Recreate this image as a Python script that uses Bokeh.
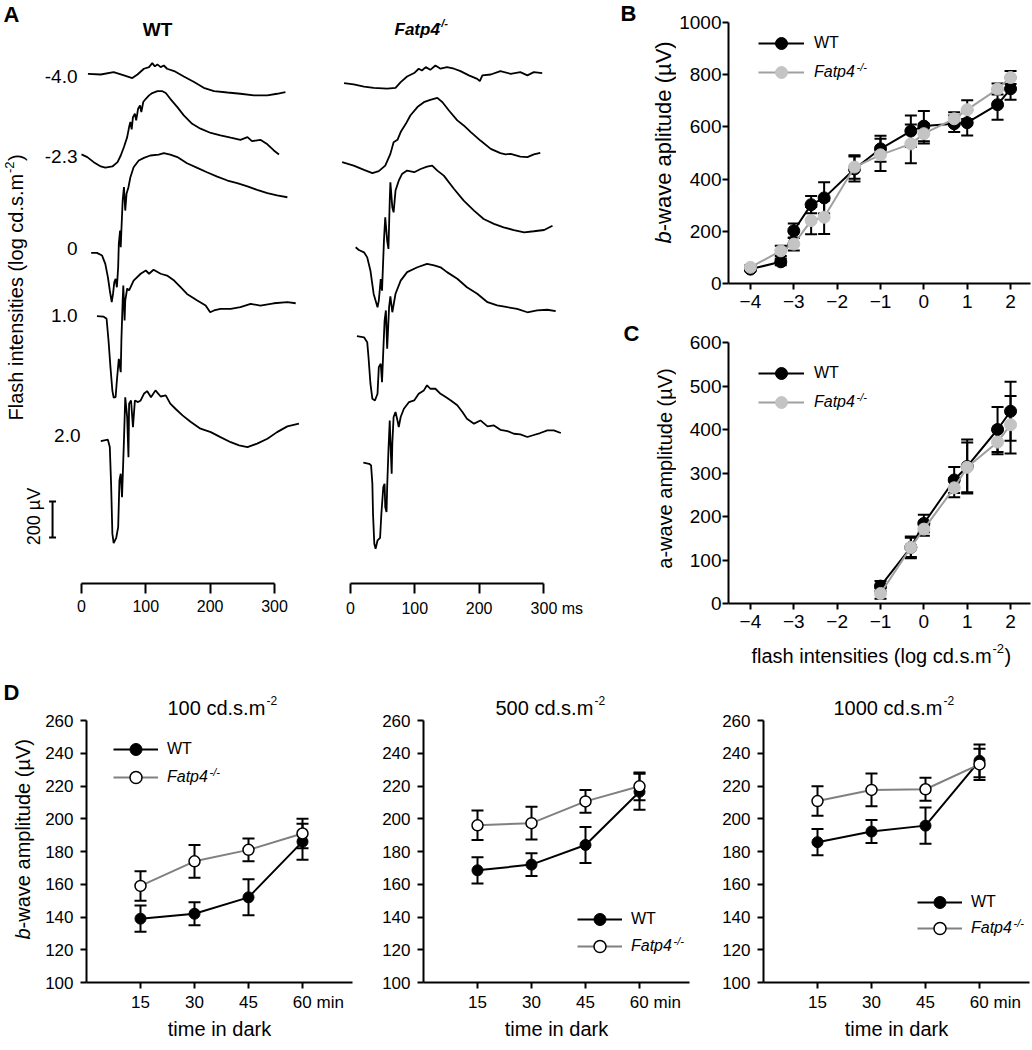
import math
from bokeh.plotting import figure
from bokeh.layouts import row, column
from bokeh.models import (Label, Whisker, ColumnDataSource, Legend, LegendItem,
                          Range1d, FixedTicker, TeeHead)
from bokeh.embed import file_html
from bokeh.resources import INLINE

FONT = "Liberation Sans"

# ---------------- Panel A: ERG traces (time in ms, amplitude in uV re. baseline) ----------------
flash_labels = ["-4.0", "-2.3", "0", "1.0", "2.0"]

wt_m4_t = [10, 30, 50, 66, 79, 87, 97, 105, 110, 114, 118, 123, 128, 133, 144, 159, 175, 190, 206, 227, 247, 268, 289, 304, 317]
wt_m4_v = [0, -4, 9, -9, -24, -4, 28, 37, 59, 41, 52, 37, 46, 28, 15, -15, -46, -78, -96, -104, -111, -120, -120, -111, -102]
wt_m23_t = [0, 9, 19, 30, 37, 48, 56, 61, 66, 71, 74, 76, 78, 80, 83, 85, 88, 91, 93, 96, 100, 105, 110, 118, 125, 131, 138, 149, 159, 172, 185, 201, 216, 232, 247, 258, 265, 278, 289, 299, 307]
wt_m23_v = [0, -15, -43, -67, -74, -67, -43, -6, 41, 96, 152, 180, 139, 207, 226, 189, 254, 272, 235, 291, 309, 328, 341, 352, 352, 341, 309, 263, 217, 170, 143, 119, 106, 93, 81, 96, 74, 81, 56, 22, 0]
wt_0_t = [15, 24, 32, 37, 41, 44, 47, 49, 51, 53, 55, 57, 58, 60, 61, 62, 64, 66, 68, 70, 73, 76, 81, 89, 97, 107, 120, 128, 138, 149, 164, 180, 195, 211, 227, 242, 258, 273, 289, 304, 320]
wt_0_v = [0, 0, -15, -61, -135, -209, -274, -228, -163, -144, -191, -80, 50, 124, 31, 124, 291, 365, 235, 328, 365, 420, 476, 513, 528, 541, 546, 554, 546, 532, 498, 472, 448, 424, 402, 387, 369, 350, 332, 319, 309]
wt_1_t = [24, 34, 39, 42, 45, 48, 50, 53, 55, 58, 61, 62, 64, 65, 67, 68, 71, 74, 81, 92, 100, 105, 112, 123, 133, 144, 154, 164, 180, 193, 200, 206, 216, 232, 247, 263, 278, 299, 320, 333]
wt_1_v = [0, -2, -14, -135, -283, -413, -452, -450, -357, -237, -311, -135, 87, 171, -24, 87, 154, 143, 198, 236, 254, 236, 258, 236, 226, 198, 161, 124, 87, 59, 22, 32, 41, 41, 50, 69, 59, 72, 78, 72]
wt_2_t = [30, 41, 44, 46, 48, 50, 54, 57, 59, 61, 63, 66, 68, 71, 73, 74, 77, 80, 83, 88, 92, 97, 102, 108, 115, 123, 131, 138, 146, 157, 170, 185, 201, 216, 232, 245, 258, 273, 289, 304, 320, 338]
wt_2_v = [0, 8, -33, -237, -514, -567, -537, -478, -218, -181, -311, 4, 244, 133, -89, 208, 226, 78, 226, 217, 226, 263, 278, 244, 282, 248, 254, 208, 180, 143, 106, 69, 50, 22, -6, -24, -33, -14, 13, 50, 82, 97]

ko_m4_t = [-10, 5, 21, 36, 57, 70, 78, 88, 99, 106, 111, 117, 124, 132, 140, 150, 161, 171, 184, 197, 201, 205, 218, 233, 249, 264, 275, 285, 298]
ko_m4_v = [0, -7, -19, -26, -31, -26, 6, 37, 56, 80, 70, 89, 74, 98, 80, 89, 80, 67, 43, 24, 11, 43, 48, 67, 52, 61, 43, 61, 56]
ko_m23_t = [-13, 5, 21, 34, 44, 54, 62, 67, 73, 78, 86, 93, 104, 114, 124, 135, 143, 153, 166, 176, 187, 202, 218, 233, 241, 249, 264, 275, 285, 295]
ko_m23_v = [0, -19, -43, -61, -50, -19, 46, 111, 124, 167, 213, 259, 306, 333, 346, 357, 333, 287, 232, 204, 167, 120, 74, 50, 43, 46, 31, 28, 43, 52]
ko_0_t = [8, 13, 21, 26, 31, 36, 42, 44, 47, 49, 52, 54, 57, 59, 61, 62, 65, 67, 70, 75, 80, 88, 99, 109, 119, 127, 135, 145, 161, 176, 192, 207, 223, 238, 254, 270, 285, 301, 314]
ko_0_v = [0, -15, -28, -56, -130, -259, -333, -296, -176, -241, 37, 167, 37, -9, 259, 361, 222, 194, 315, 370, 407, 426, 417, 435, 448, 454, 426, 398, 324, 259, 204, 157, 130, 111, 96, 83, 89, 96, 120]
ko_1_t = [10, 21, 26, 28, 31, 34, 38, 42, 44, 47, 49, 51, 53, 55, 57, 60, 62, 65, 70, 78, 88, 104, 119, 130, 140, 150, 166, 181, 197, 213, 228, 244, 259, 275, 290, 306, 319]
ko_1_v = [0, -6, -33, -117, -264, -348, -357, -320, -172, -153, -256, -79, 87, 143, -70, 161, 221, 133, 236, 309, 356, 383, 402, 393, 383, 356, 319, 272, 236, 189, 171, 161, 152, 133, 143, 147, 139]
ko_2_t = [20, 29, 32, 34, 35, 37, 39, 42, 46, 48, 51, 53, 54, 56, 57, 59, 61, 62, 64, 65, 67, 70, 73, 75, 78, 83, 91, 99, 106, 114, 119, 124, 132, 140, 148, 156, 166, 174, 181, 192, 202, 213, 223, 233, 244, 254, 264, 275, 285, 295, 306, 316, 327]
ko_2_v = [0, -6, -15, -117, -283, -450, -478, -432, -417, -283, -135, -117, -246, -274, -135, 69, 235, 124, -61, 106, 254, 282, 235, 198, 254, 300, 337, 346, 383, 402, 430, 411, 411, 383, 365, 346, 319, 282, 244, 217, 235, 202, 207, 183, 176, 161, 157, 143, 154, 165, 180, 180, 165]

time_ticks = [0, 100, 200, 300]
scale_bar_uv = 200

# ---------------- Panel B: b-wave vs flash intensity ----------------
b_log_int = [-4, -3.3, -3, -2.6, -2.3, -1.6, -1, -0.3, 0, 0.7, 1, 1.7, 2]
b_wt = [55, 83, 202, 302, 328, 439, 516, 584, 603, 612, 616, 685, 746]
b_wt_err = [8, 13, 28, 33, 60, 48, 50, 60, 58, 32, 49, 58, 42]
b_ko = [62, 125, 151, 241, 254, 446, 493, 535, 574, 631, 666, 745, 789]
b_ko_err = [8, 20, 25, 52, 64, 45, 62, 74, 38, 25, 36, 21, 25]
b_yticks = [0, 200, 400, 600, 800, 1000]
int_ticks = [-4, -3, -2, -1, 0, 1, 2]

# ---------------- Panel C: a-wave vs flash intensity ----------------
a_log_int = [-1, -0.3, 0, 0.7, 1, 1.7, 2]
a_wt = [40, 129, 184, 284, 315, 400, 442]
a_wt_err = [12, 25, 20, 30, 62, 52, 68]
a_ko = [23, 129, 171, 266, 313, 371, 411]
a_ko_err = [12, 22, 15, 22, 57, 28, 66]
a_yticks = [0, 100, 200, 300, 400, 500, 600]

# ---------------- Panel D: b-wave vs time in dark ----------------
dark_min = [15, 30, 45, 60]
d_titles = ["100 cd.s.m", "500 cd.s.m", "1000 cd.s.m"]
d_wt = [[139, 142, 152, 186], [168.5, 172, 184, 216.5], [185.7, 192.2, 195.8, 235.4]]
d_wt_err = [[8, 7, 11, 11], [8, 7, 11, 11], [8, 7, 11, 10]]
d_ko = [[159, 174, 181, 191], [196, 197.3, 210.6, 219.8], [210.8, 217.6, 218, 233.2]]
d_ko_err = [[9, 10, 7, 9], [9, 10, 7, 8.5], [9, 10, 7, 9.5]]
d_yticks = [100, 120, 140, 160, 180, 200, 220, 240, 260]

# ---------------- layout constants (page pixels) ----------------
UV_PER_PX = 5.556
MS_PER_PX = 1.5545
TOP_H = 680
BOT_H = 370
A_FRAME_BOTTOM = 583
wt_offsets = [2832, 2384, 1837, 1485, 791]
ko_offsets = [2780, 2341, 1868, 1374, 671]
KO_GRAY_LINE = "#A0A0A0"
KO_GRAY_FILL = "#C4C4C4"
FIG_SP = "\u2007"
THIN_SP = "\u2009"


def new_fig(w, h, xr, yr, left, right, top, bottom, x_axis=True, y_axis=True):
    kw = dict(width=w, height=h, x_range=Range1d(*xr), y_range=Range1d(*yr),
              output_backend="svg", toolbar_location=None,
              min_border_left=left, min_border_right=right,
              min_border_top=top, min_border_bottom=bottom)
    if not y_axis:
        kw["y_axis_location"] = None
    if not x_axis:
        kw["x_axis_location"] = None
    p = figure(**kw)
    p.outline_line_color = None
    p.grid.visible = False
    p.background_fill_color = "white"
    p.border_fill_color = "white"
    return p


def style_axis(ax, size, standoff, tick_out):
    ax.axis_line_width = 2
    ax.axis_line_color = "black"
    ax.major_tick_line_width = 2
    ax.major_tick_line_color = "black"
    ax.major_tick_out = tick_out
    ax.major_tick_in = 0
    ax.minor_tick_line_color = None
    ax.major_label_text_font = FONT
    ax.major_label_text_font_size = f"{size}px"
    ax.major_label_text_color = "black"
    ax.major_label_standoff = standoff


def add_text(p, frame, x, y, text, size, style="normal", align="left",
             baseline="middle", angle=0.0):
    # frame = (left, bottom) of the figure's plot frame in page pixels
    p.add_layout(Label(x=x - frame[0], y=frame[1] - y, x_units="screen", y_units="screen",
                       text=text, text_font=FONT, text_font_size=f"{size}px",
                       text_font_style=style, text_align=align, text_baseline=baseline,
                       angle=angle, text_color="black"))


def add_legend(p, frame, renderers, label, x_left, y_center, glyph_w, standoff, size, style):
    gh = 30
    lg = Legend(items=[LegendItem(label=label, renderers=renderers)],
                location=(x_left - frame[0], frame[1] - (y_center + gh / 2)),
                orientation="vertical", glyph_width=glyph_w, glyph_height=gh,
                label_height=gh, label_standoff=standoff, padding=0, margin=0, spacing=0,
                border_line_color=None, background_fill_alpha=0,
                label_text_font=FONT, label_text_font_size=f"{size}px",
                label_text_font_style=style, label_text_color="black")
    p.add_layout(lg)


def add_err(p, x, y, err, head, width=2):
    src = ColumnDataSource(dict(x=x, lo=[a - e for a, e in zip(y, err)],
                                hi=[a + e for a, e in zip(y, err)]))
    p.add_layout(Whisker(source=src, base="x", lower="lo", upper="hi", dimension="height",
                         line_color="black", line_width=width, level="underlay",
                         upper_head=TeeHead(size=head, line_width=width, line_color="black"),
                         lower_head=TeeHead(size=head, line_width=width, line_color="black")))


# ================= Panel A =================
def erg_fig(width, frame_left, zero_x, traces, offsets):
    x0 = (frame_left - zero_x) * MS_PER_PX
    x1 = x0 + width * MS_PER_PX
    p = new_fig(width, TOP_H, (x0, x1), (0, A_FRAME_BOTTOM * UV_PER_PX), 0, 0, 0,
                TOP_H - A_FRAME_BOTTOM, y_axis=False)
    for (t, v), off in zip(traces, offsets):
        p.line(t, [vi + off for vi in v], line_width=1.8, color="black")
    ax = p.xaxis[0]
    ax.ticker = FixedTicker(ticks=time_ticks)
    ax.bounds = (time_ticks[0], time_ticks[-1])
    style_axis(ax, 16, 6, 10)
    return p


wt_traces = [(wt_m4_t, wt_m4_v), (wt_m23_t, wt_m23_v), (wt_0_t, wt_0_v), (wt_1_t, wt_1_v), (wt_2_t, wt_2_v)]
ko_traces = [(ko_m4_t, ko_m4_v), (ko_m23_t, ko_m23_v), (ko_0_t, ko_0_v), (ko_1_t, ko_1_v), (ko_2_t, ko_2_v)]

a_wt_fig = erg_fig(330, 0, 81, wt_traces, wt_offsets)
FA = (0, A_FRAME_BOTTOM)
add_text(a_wt_fig, FA, 3, 14, "A", 22, "bold")
add_text(a_wt_fig, FA, 157, 29, "WT", 19, "bold", "center")
for lab, (lx, ly) in zip(flash_labels, [(77, 76), (77, 156), (77, 248), (77, 315), (80, 435)]):
    add_text(a_wt_fig, FA, lx, ly, lab, 19, align="right")
add_text(a_wt_fig, FA, 15, 420, "Flash intensities (log cd.s.m", 20, angle=math.pi / 2)
add_text(a_wt_fig, FA, 9, 172.5, "-2", 13, angle=math.pi / 2)
add_text(a_wt_fig, FA, 15, 160.5, ")", 20, angle=math.pi / 2)
sb_src = ColumnDataSource(dict(x=[-45], lo=[256], hi=[256 + scale_bar_uv]))
a_wt_fig.add_layout(Whisker(source=sb_src, base="x", lower="lo", upper="hi", dimension="height",
                            line_color="black", line_width=2,
                            upper_head=TeeHead(size=7, line_width=2, line_color="black"),
                            lower_head=TeeHead(size=7, line_width=2, line_color="black")))
add_text(a_wt_fig, FA, 33, 516, f"{scale_bar_uv} µV", 18, align="center", angle=math.pi / 2)

# Fatp4 traces; this frame also carries the B / C side texts
a_ko_fig = erg_fig(346, 330, 350, ko_traces, ko_offsets)
a_ko_fig.xaxis[0].major_label_overrides = {time_ticks[-1]: FIG_SP * 3 + f"{time_ticks[-1]} ms"}
FK = (330, A_FRAME_BOTTOM)
add_text(a_ko_fig, FK, 394, 29, "Fatp4", 17, "bold italic")
add_text(a_ko_fig, FK, 437, 22, "-/-", 11, "bold italic")
add_text(a_ko_fig, FK, 620, 13, "B", 22, "bold")
add_text(a_ko_fig, FK, 663, 243, "b", 22, "italic", angle=math.pi / 2)
add_text(a_ko_fig, FK, 663, 230.8, "-wave aplitude (µV)", 22, angle=math.pi / 2)
add_text(a_ko_fig, FK, 623, 333, "C", 22, "bold")
add_text(a_ko_fig, FK, 664, 468, "a-wave amplitude (µV)", 20, align="center", angle=math.pi / 2)


# ================= Panels B and C =================
B_XR = (-4.506, 2.46)


def dose_fig(height, top, bottom, yticks):
    p = new_fig(356, height, B_XR, (yticks[0], yticks[-1]), 51, 2, top, bottom)
    p.xaxis.ticker = FixedTicker(ticks=int_ticks)
    p.yaxis.ticker = FixedTicker(ticks=yticks)
    style_axis(p.xaxis[0], 19, 5, 6)
    style_axis(p.yaxis[0], 19, 1, 6)
    return p


def dose_series(p, x, wt, wt_err, ko, ko_err):
    add_err(p, x, wt, wt_err, 12)
    add_err(p, x, ko, ko_err, 12)
    wl = p.line(x, wt, line_width=2, color="black")
    ws = p.scatter(x, wt, size=12, fill_color="black", line_color="black")
    kl = p.line(x, ko, line_width=2, color=KO_GRAY_LINE)
    ks = p.scatter(x, ko, size=12, fill_color=KO_GRAY_FILL, line_color=KO_GRAY_FILL)
    return [wl, ws], [kl, ks]


pb = dose_fig(320, 22, 37, b_yticks)
FB = (727, 283)
wr, kr = dose_series(pb, b_log_int, b_wt, b_wt_err, b_ko, b_ko_err)
add_legend(pb, FB, wr, "WT", 757, 43, 46, 10, 16, "normal")
add_legend(pb, FB, kr, "Fatp4", 757, 72, 46, 10, 16, "italic")
add_text(pb, FB, 855, 66, "-/-", 11, "italic")

pc = dose_fig(318, 22, 35, a_yticks)
FC = (727, 603)
wr, kr = dose_series(pc, a_log_int, a_wt, a_wt_err, a_ko, a_ko_err)
add_legend(pc, FC, wr, "WT", 757, 373, 46, 10, 16, "normal")
add_legend(pc, FC, kr, "Fatp4", 757, 402, 46, 10, 16, "italic")
add_text(pc, FC, 855, 396, "-/-", 11, "italic")

# strip under C for its x-axis title (with superscript)
pc_lab = new_fig(356, 42, B_XR, (0, 1), 51, 2, 0, 0, x_axis=False, y_axis=False)
FCL = (727, 680)
add_text(pc_lab, FCL, 750, 655, "flash intensities (log cd.s.m", 20)
add_text(pc_lab, FCL, 991, 648, "-2", 13)
add_text(pc_lab, FCL, 1003, 655, ")", 20)

# ================= Panel D =================
D_TOP = 680
D_FRAME_BOTTOM = 982
D_Y260 = 720
D_PX_PER_UNIT = (D_FRAME_BOTTOM - D_Y260) / float(d_yticks[-1] - d_yticks[0])
d_ytop = d_yticks[-1] + (D_Y260 - D_TOP) / D_PX_PER_UNIT
D_PX_PER_MIN = 3.6
D_FRAME_W = 266
d_xright = D_FRAME_W / D_PX_PER_MIN
D_BOTTOM_BORDER = D_TOP + BOT_H - D_FRAME_BOTTOM

# spacer left of D1 carrying the panel letter and the y-axis title
d_side = new_fig(42, BOT_H, (0, 1), (0, 1), 0, 0, 0, D_BOTTOM_BORDER, x_axis=False, y_axis=False)
FDS = (0, D_FRAME_BOTTOM)
add_text(d_side, FDS, 3, 692, "D", 22, "bold")
add_text(d_side, FDS, 22, 939, "b", 20, "italic", angle=math.pi / 2)
add_text(d_side, FDS, 22, 927.9, "-wave amplitude (µV)", 20, angle=math.pi / 2)

d_geom = [
    # width, left border, right border, frame left (page px)
    (311, 44, 1, 86),
    (337, 70, 1, 423),
    (342, 73, 3, 763),
]
d_title_x = [167, 495, 833]
d_title_sup = [266, 594, 943]
d_leg = [  # legend line left, WT row, KO row
    (113, 749, 777),
    (577, 919, 946),
    (917, 902, 928),
]

d_figs = [d_side]
for k in range(3):
    w, lb, rb, fl = d_geom[k]
    p = new_fig(w, BOT_H, (0, d_xright), (d_yticks[0], d_ytop), lb, rb, 0, D_BOTTOM_BORDER)
    FD = (fl, D_FRAME_BOTTOM)
    p.xaxis.ticker = FixedTicker(ticks=dark_min)
    p.xaxis.major_label_overrides = {dark_min[-1]: FIG_SP * 3 + THIN_SP + f"{dark_min[-1]} min"}
    p.yaxis.ticker = FixedTicker(ticks=d_yticks)
    p.yaxis.bounds = (d_yticks[0], d_yticks[-1])
    style_axis(p.xaxis[0], 17, 4, 6)
    style_axis(p.yaxis[0], 17, 7, 6)
    p.xaxis.axis_label = "time in dark"
    p.xaxis.axis_label_text_font = FONT
    p.xaxis.axis_label_text_font_size = "20px"
    p.xaxis.axis_label_text_font_style = "normal"
    p.xaxis.axis_label_text_color = "black"
    p.xaxis.axis_label_standoff = 3
    add_err(p, dark_min, d_wt[k], d_wt_err[k], 12)
    add_err(p, dark_min, d_ko[k], d_ko_err[k], 12)
    wl = p.line(dark_min, d_wt[k], line_width=2, color="black")
    ws = p.scatter(dark_min, d_wt[k], size=11, fill_color="black", line_color="black")
    kl = p.line(dark_min, d_ko[k], line_width=2, color="#808080")
    ks = p.scatter(dark_min, d_ko[k], size=11, fill_color="white", line_color="black", line_width=1.5)
    lx, wy, ky = d_leg[k]
    add_legend(p, FD, [wl, ws], "WT", lx, wy, 45, 9, 16, "normal")
    add_legend(p, FD, [kl, ks], "Fatp4", lx, ky, 45, 9, 16, "italic")
    add_text(p, FD, lx + 45 + 9 + 42, ky - 6, "-/-", 11, "italic")
    add_text(p, FD, d_title_x[k], 707, d_titles[k], 20)
    add_text(p, FD, d_title_sup[k], 700, "-2", 12)
    d_figs.append(p)

layout = column(row(a_wt_fig, a_ko_fig, column(pb, pc, pc_lab)), row(*d_figs))
open("out.html", "w").write(file_html(layout, INLINE, title="ERG"))
